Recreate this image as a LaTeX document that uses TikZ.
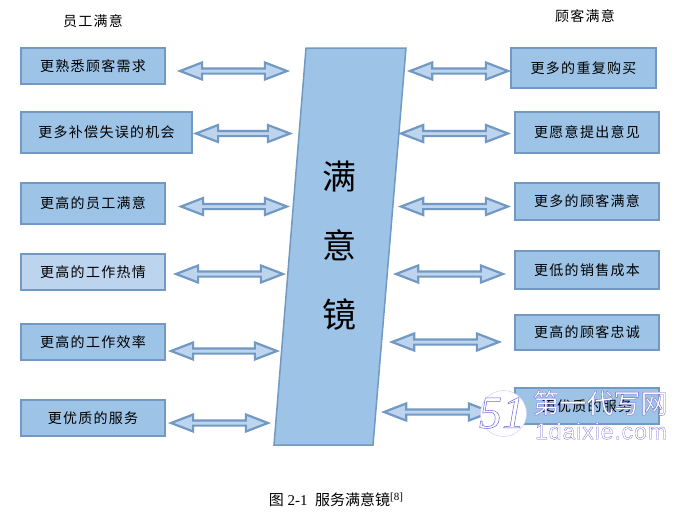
\documentclass[tikz,border=0pt]{standalone}
\usepackage{fontspec}
\usepackage{xcolor}
\setmainfont{Liberation Serif}
\newfontfamily\cjk[LetterSpace=9]{Noto Sans CJK SC}
\newfontfamily\cjkplain{Noto Sans CJK SC}
\font\markname="Noto Sans CJK SC:embolden=1.2" at 27pt
\font\marksite="Liberation Sans:embolden=1.1;letterspace=4" at 23pt
\font\marklogo="Liberation Serif/I:embolden=1.1" at 46pt
\newcommand{\markink}[1]{\special{pdf:bcolor [1 1 1] [0.44 0.39 0.83]}#1\special{pdf:ecolor}}
\usetikzlibrary{shapes.arrows}
\definecolor{boxfill}{HTML}{9DC3E6}
\definecolor{boxpale}{HTML}{BDD4EE}
\definecolor{boxline}{HTML}{7199C3}
\definecolor{markcol}{HTML}{8D86DE}
\tikzset{
  itembox/.style={draw=boxline, line width=2pt, fill=boxfill, inner sep=0pt, font=\cjk\fontsize{14}{16}\selectfont},
  linkarrow/.style={draw=boxline, line width=2.2pt, fill=boxpale, shape=double arrow, inner sep=0pt,
    minimum width=17pt, double arrow head extend=2.5pt, double arrow tip angle=42},
  headtext/.style={font=\cjk\fontsize{14}{16}\selectfont},
  bigchar/.style={font=\cjkplain\fontsize{34}{36}\selectfont}
}
\begin{document}
\begin{tikzpicture}[x=1pt,y=-1pt]
  \useasboundingbox (0,0) rectangle (682,515);
  \node[headtext] (leftTitle) at (93,21) {员工满意};
  \node[headtext] (rightTitle) at (585,16) {顾客满意};
  % left column
  \node[itembox, minimum width=144pt, minimum height=36pt] (left1) at (93,66) {更熟悉顾客需求};
  \node[itembox, minimum width=171pt, minimum height=41pt] (left2) at (106.5,132.5) {更多补偿失误的机会};
  \node[itembox, minimum width=144pt, minimum height=41pt] (left3) at (93,203.5) {更高的员工满意};
  \node[itembox, fill=boxpale, minimum width=144pt, minimum height=36pt] (left4) at (93,272) {更高的工作热情};
  \node[itembox, minimum width=144pt, minimum height=36pt] (left5) at (93,342) {更高的工作效率};
  \node[itembox, minimum width=144pt, minimum height=36pt] (left6) at (93,418) {更优质的服务};
  % right column
  \node[itembox, minimum width=145pt, minimum height=40pt] (right1) at (583.5,68) {更多的重复购买};
  \node[itembox, minimum width=144pt, minimum height=41pt] (right2) at (587,132.5) {更愿意提出意见};
  \node[itembox, minimum width=144pt, minimum height=37pt] (right3) at (587,201.5) {更多的顾客满意};
  \node[itembox, minimum width=144pt, minimum height=38pt] (right4) at (587,270) {更低的销售成本};
  \node[itembox, minimum width=144pt, minimum height=35pt] (right5) at (587,332.5) {更高的顾客忠诚};
  \node[itembox, minimum width=144pt, minimum height=36pt] (right6) at (587,406) {更优质的服务};
  % the mirror
  \draw[draw=boxline, line width=1.5pt, fill=boxfill] (306,48) -- (406,48) -- (373,445) -- (274,445) -- cycle;
  \node[bigchar] (mirror1) at (339,177) {满};
  \node[bigchar] (mirror2) at (339,245) {意};
  \node[bigchar] (mirror3) at (339,315) {镜};
  % block arrows
  \node[linkarrow, minimum height=107pt] (arrowL1) at (233.5,71) {};
  \node[linkarrow, minimum height=94pt] (arrowL2) at (243,133.5) {};
  \node[linkarrow, minimum height=106pt] (arrowL3) at (234,206.5) {};
  \node[linkarrow, minimum height=107pt] (arrowL4) at (229.5,274) {};
  \node[linkarrow, minimum height=106pt] (arrowL5) at (224,351) {};
  \node[linkarrow, minimum height=97pt] (arrowL6) at (219.5,423) {};
  \node[linkarrow, minimum height=98pt] (arrowR1) at (459,71) {};
  \node[linkarrow, minimum height=107pt] (arrowR2) at (454.5,133.5) {};
  \node[linkarrow, minimum height=107pt] (arrowR3) at (454.5,206.5) {};
  \node[linkarrow, minimum height=107pt] (arrowR4) at (449.5,274) {};
  \node[linkarrow, minimum height=107pt] (arrowR5) at (445.5,342) {};
  \node[linkarrow, minimum height=107pt] (arrowR6) at (437.5,412) {};
  % caption
  \node[font=\fontsize{15}{17}\selectfont] (caption) at (336,500) {{\cjkplain 图} 2-1\ \ {\cjkplain 服务满意镜}\raisebox{5pt}{\fontsize{11}{11}\selectfont[8]}};
  % watermark
  \fill[white] (503.5,413.5) circle (23);
  \draw[markcol!35, line width=0.6pt] (503.5,413.5) circle (23);
  \node[inner sep=0pt, font=\marklogo] (markLogo) at (502,413) {\markink{51}};
  \node[inner sep=0pt, font=\markname] (markName) at (600,403) {\markink{第一代写网}};
  \node[inner sep=0pt, font=\marksite] (markSite) at (601,431) {\markink{1daixie.com}};
\end{tikzpicture}
\end{document}
